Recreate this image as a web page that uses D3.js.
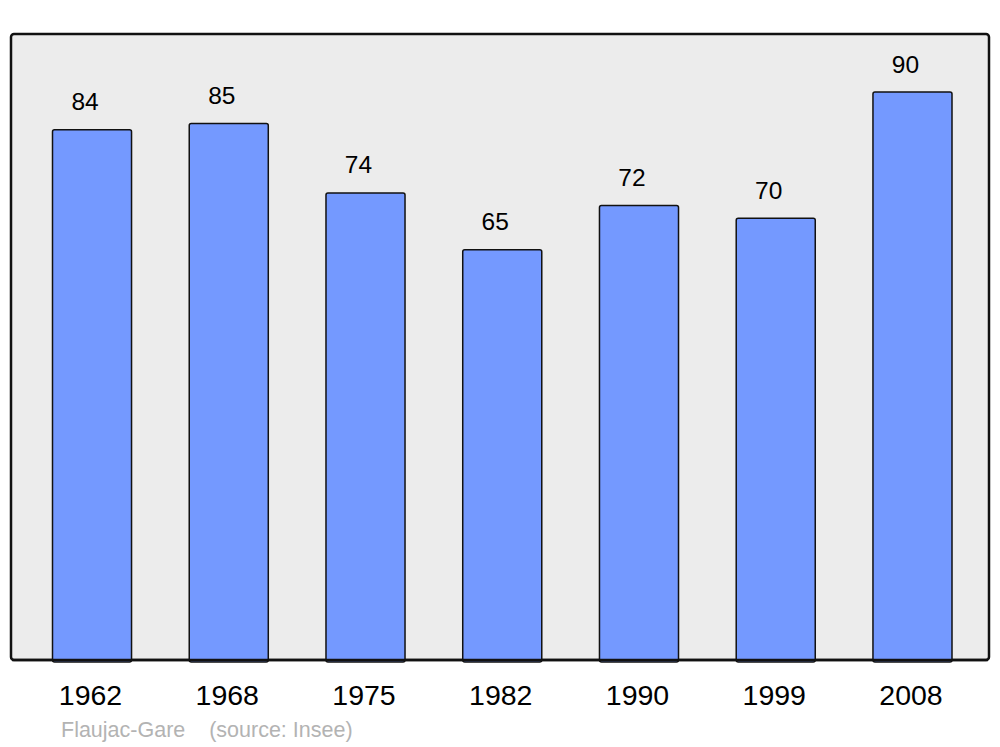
<!DOCTYPE html>
<html><head><meta charset="utf-8">
<script src="https://cdn.jsdelivr.net/npm/d3@7"></script>
<style>body{margin:0;background:#fff}svg{display:block}</style>
</head><body>
<script>
const years = ["1962","1968","1975","1982","1990","1999","2008"];
const population = [84,85,74,65,72,70,90];
const place = "Flaujac-Gare";
const source = "(source: Insee)";

const W = 1000, H = 747;
const svg = d3.select("body").append("svg").attr("width", W).attr("height", H);

const x = d3.scaleBand().domain(years).range([52.5, 952]).paddingInner(0.422).paddingOuter(0);
const y = d3.scaleLinear().domain([0, 90]).range([660, 92]);

svg.append("rect").attr("x", 11).attr("y", 34).attr("width", 978).attr("height", 626)
  .attr("rx", 3).attr("fill", "#ececec").attr("stroke", "#111").attr("stroke-width", 2.5);

const data = years.map((yr, i) => ({yr, v: population[i]}));

svg.selectAll("rect.bar").data(data).enter().append("rect").attr("class", "bar")
  .attr("x", d => x(d.yr)).attr("y", d => y(d.v))
  .attr("width", x.bandwidth()).attr("height", d => y(0) - y(d.v) + 2)
  .attr("rx", 2).attr("fill", "#7499ff").attr("stroke", "#111").attr("stroke-width", 1.5);

svg.append("line").attr("x1", 12).attr("x2", 988).attr("y1", 660).attr("y2", 660)
  .attr("stroke", "#111").attr("stroke-width", 2.5);

svg.selectAll("text.val").data(data).enter().append("text").attr("class", "val")
  .attr("x", d => x(d.yr) + x.bandwidth()/2 - 7).attr("y", d => y(d.v) - 19.5)
  .attr("text-anchor", "middle").attr("font-family", "Liberation Sans, Arial, sans-serif")
  .attr("font-size", 24.5).attr("fill", "#000").text(d => d.v);

const xAxis = d3.axisBottom(x).tickSize(0).tickPadding(0);
const gx = svg.append("g").attr("transform", "translate(-1.5,705)").call(xAxis);
gx.select(".domain").remove();
gx.selectAll("text").attr("dy", 0).attr("font-family", "Liberation Sans, Arial, sans-serif")
  .attr("font-size", 28.5).attr("fill", "#000");

svg.append("text").attr("x", 61).attr("y", 737).attr("font-family", "Liberation Sans, Arial, sans-serif")
  .attr("font-size", 21.5).attr("fill", "#b3b3b3").attr("xml:space", "preserve")
  .text(place + "    " + source);
</script>
</body></html>
